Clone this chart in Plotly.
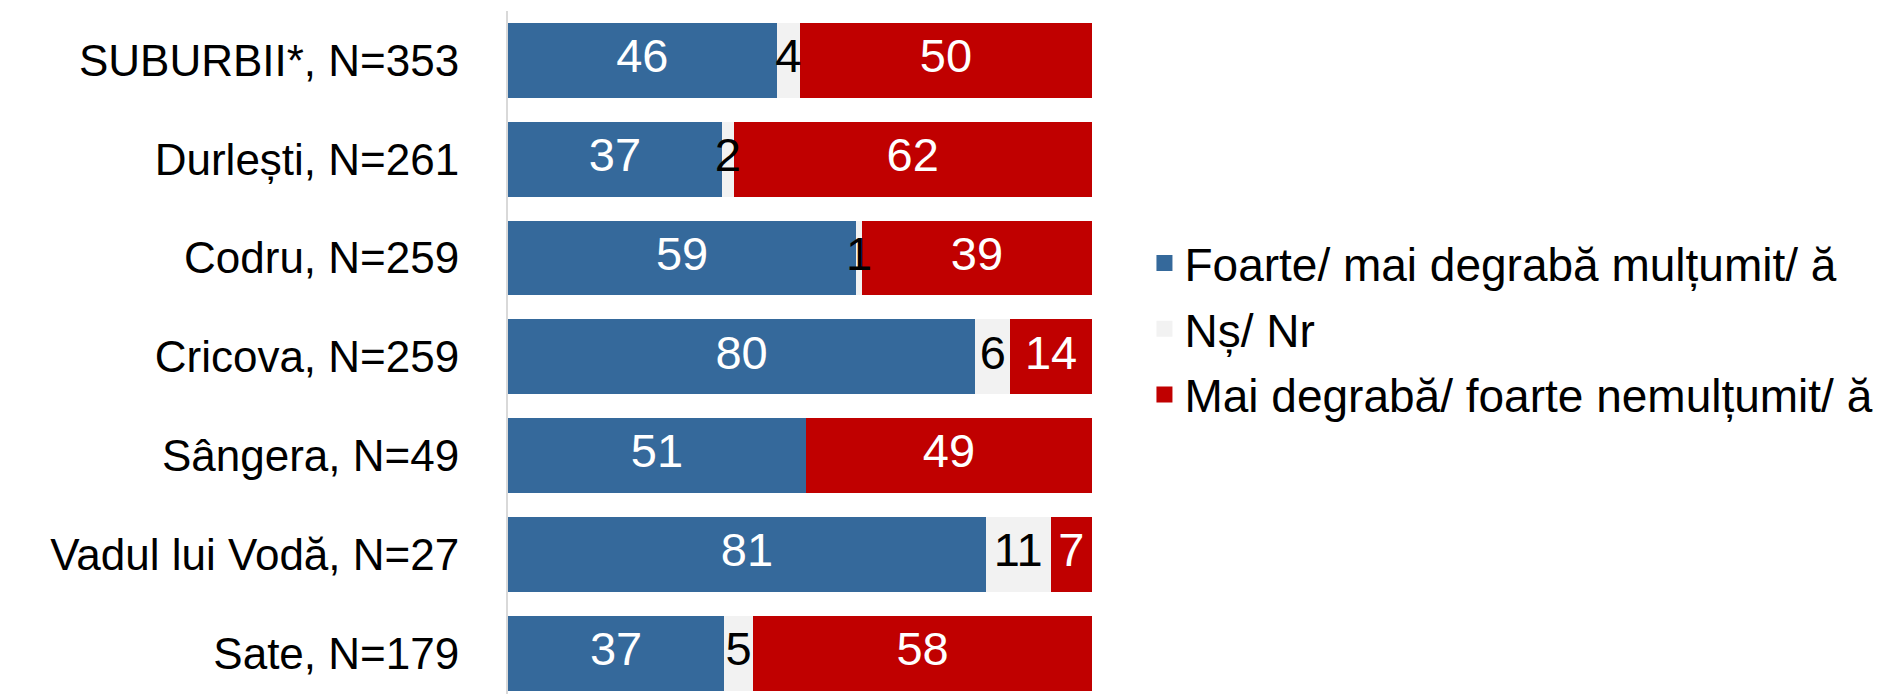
import plotly.graph_objects as go

categories = ["SUBURBII*, N=353", "Durlești, N=261", "Codru, N=259", "Cricova, N=259",
              "Sângera, N=49", "Vadul lui Vodă, N=27", "Sate, N=179"]
satisfied = [46, 37, 59, 80, 51, 81, 37]
dont_know = [4, 2, 1, 6, 0, 11, 5]
dissatisfied = [50, 62, 39, 14, 49, 7, 58]

series_names = ["Foarte/ mai degrabă mulțumit/ ă", "Nș/ Nr", "Mai degrabă/ foarte nemulțumit/ ă"]
series_values = [satisfied, dont_know, dissatisfied]
series_colors = ["#35699B", "#F2F2F2", "#C00000"]
text_colors = ["white", "black", "white"]

# page body has an 8px default margin, so the figure is sized to fit the 1888x694 window
W, H = 1880, 686
plot_left, plot_right = 500, 1084.5
plot_top = 3
FONT = "Liberation Sans, Arial, sans-serif"

fig = go.Figure()
for i, (name, vals, col) in enumerate(zip(series_names, series_values, series_colors)):
    fig.add_trace(go.Bar(
        y=categories, x=vals, name=name, orientation="h",
        marker=dict(color=col, line=dict(width=0)),
        hoverinfo="skip", showlegend=False,
    ))
    # legend-only entry with a square swatch
    fig.add_trace(go.Scatter(
        x=[None], y=[None], mode="markers", name=name,
        marker=dict(symbol="square", size=16, color=col),
        legendgroup=f"g{i}", showlegend=True, hoverinfo="skip",
    ))

# value labels, centred on each (percent-normalised) segment, drawn above all bars
totals = [a + b + c for a, b, c in zip(satisfied, dont_know, dissatisfied)]
for k, (vals, tcol) in enumerate(zip(series_values, text_colors)):
    before = [sum(series_values[j][r] for j in range(k)) for r in range(len(categories))]
    xs = [(b + v / 2) / t * 100 for b, v, t in zip(before, vals, totals)]
    fig.add_trace(go.Scatter(
        x=xs, y=categories, mode="text",
        text=[str(v) if v else "" for v in vals],
        textposition="middle center",
        textfont=dict(family=FONT, size=47, color=tcol),
        showlegend=False, hoverinfo="skip", cliponaxis=False,
    ))

fig.update_layout(
    width=W, height=H,
    barmode="stack", barnorm="percent", bargap=0.241,
    plot_bgcolor="white", paper_bgcolor="white",
    margin=dict(l=plot_left, r=W - plot_right, t=plot_top, b=0, autoexpand=False),
    font=dict(family=FONT, size=44, color="black"),
    showlegend=True,
    legend=dict(
        x=(1137 - plot_left) / (plot_right - plot_left), xanchor="left",
        y=(H - 321) / (H - plot_top), yanchor="middle",
        font=dict(family=FONT, size=46, color="black"),
        bgcolor="rgba(0,0,0,0)", traceorder="grouped", tracegroupgap=3,
        itemsizing="trace",
    ),
    xaxis=dict(range=[0, 100], visible=False, showgrid=False, zeroline=False),
    yaxis=dict(
        type="category", categoryorder="array", categoryarray=categories,
        range=[6.413, -0.5],
        showline=True, linecolor="#D9D9D9", linewidth=2,
        ticks="outside", ticklen=38, tickcolor="rgba(0,0,0,0)",
        showgrid=False, zeroline=False,
        tickfont=dict(family=FONT, size=44, color="black"),
    ),
)

fig.write_html("out.html")
